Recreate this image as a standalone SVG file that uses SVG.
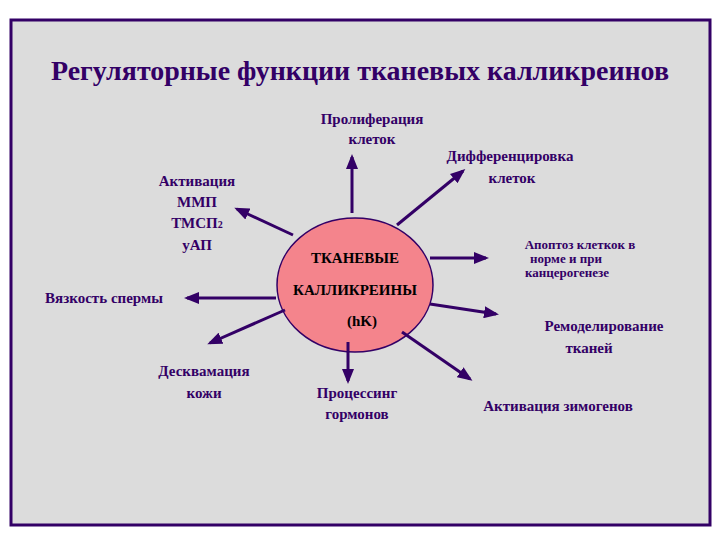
<svg xmlns="http://www.w3.org/2000/svg" width="720" height="540" viewBox="0 0 720 540" font-family="'Liberation Serif', 'Times New Roman', Tinos, 'DejaVu Serif', serif">
<style>
text{font-weight:bold;fill:#330066;text-anchor:middle}
.l{font-size:15px}
.s{font-size:13px}
.c{fill:#000;font-size:15px}
.a{stroke:#330066;stroke-width:3;fill:none;marker-end:url(#ah)}
</style>
<defs><marker id="ah" markerWidth="5" markerHeight="4" refX="4" refY="2" orient="auto"><path d="M0,0L5,2L0,4z" fill="#330066"/></marker></defs>
<rect width="720" height="540" fill="#fff"/>
<rect x="11" y="20" width="699" height="505" fill="#dcdcdc" stroke="#330066" stroke-width="3"/>
<text x="360" y="80" style="font-size:27px" textLength="618" lengthAdjust="spacingAndGlyphs">Регуляторные функции тканевых калликреинов</text>
<g id="center"><ellipse cx="355" cy="285" rx="78" ry="67" fill="#f4848c" stroke="#330066" stroke-width="1.5"/>
<text class="c" x="355" y="263">ТКАНЕВЫЕ</text><text class="c" x="355" y="295">КАЛЛИКРЕИНЫ</text><text class="c" x="362" y="326">(hK)</text></g>
<g id="connectors">
<line class="a" x1="352" y1="213" x2="352" y2="157"/>
<line class="a" x1="397" y1="225" x2="463" y2="171"/>
<line class="a" x1="293" y1="235" x2="237" y2="209"/>
<line class="a" x1="430" y1="258" x2="486" y2="258"/>
<line class="a" x1="276" y1="298" x2="187" y2="298"/>
<line class="a" x1="430" y1="304" x2="496" y2="314"/>
<line class="a" x1="285" y1="310" x2="210" y2="343"/>
<line class="a" x1="348" y1="342" x2="348" y2="381"/>
<line class="a" x1="402" y1="332" x2="470" y2="379"/>
</g>
<g id="n1"><text class="l" x="372" y="124">Пролиферация</text><text class="l" x="372" y="144">клеток</text></g>
<g id="n2"><text class="l" x="510" y="161">Дифференцировка</text><text class="l" x="512" y="183">клеток</text></g>
<g id="n3"><text class="l" x="197" y="186">Активация</text><text class="l" x="197" y="207">ММП</text><text class="l" x="197" y="228">ТМСП<tspan font-size="10">2</tspan></text><text class="l" x="197" y="250">уАП</text></g>
<g id="n4"><text class="s" x="580" y="249">Апоптоз клеткок в</text><text class="s" x="566" y="263">норме и при</text><text class="s" x="567" y="277">канцерогенезе</text></g>
<g id="n5"><text class="l" x="104" y="303">Вязкость спермы</text></g>
<g id="n6"><text class="l" x="604" y="331">Ремоделирование</text><text class="l" x="589" y="353">тканей</text></g>
<g id="n7"><text class="l" x="204" y="376">Десквамация</text><text class="l" x="204" y="398">кожи</text></g>
<g id="n8"><text class="l" x="357" y="398">Процессинг</text><text class="l" x="357" y="419">гормонов</text></g>
<g id="n9"><text class="l" x="558" y="411">Активация зимогенов</text></g>
</svg>
